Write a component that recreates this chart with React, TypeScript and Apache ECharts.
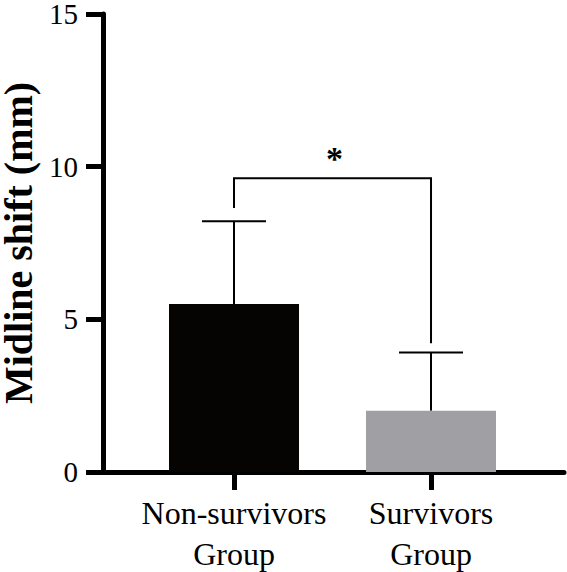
import React, { useEffect, useRef } from "react";
import * as echarts from "echarts";

const categories = ["Non-survivors\nGroup", "Survivors\nGroup"];
const positions = [1, 2];
const means = [5.5, 2.01];
const upperErrors = [8.21, 3.91];
const barColors = ["#060303", "#a0a0a4"];
const yTicks = [0, 5, 10, 15];
// significance bracket: [leftX, rightX, topY, leftLegEnd, rightLegEnd]
const bracket = [1, 2, 9.62, 8.65, 4.22];
const sigLabel = "*";

const FONT = '"Liberation Serif", "Times New Roman", serif';

export default function App() {
  const ref = useRef<HTMLDivElement>(null);
  useEffect(() => {
    if (!ref.current) return;
    const chart = echarts.init(ref.current, null, { renderer: "svg" });
    chart.setOption({
      animation: false,
      grid: { left: 103, right: 3, top: 14, bottom: 100, containLabel: false, outerBoundsMode: "none" },
      xAxis: {
        type: "value",
        min: 0.335,
        max: 2.675,
        splitLine: { show: false },
        axisLine: { show: true, lineStyle: { color: "#000", width: 5 } },
        axisTick: {
          show: true,
          customValues: positions,
          length: 18,
          inside: false,
          lineStyle: { color: "#000", width: 5 },
        },
        axisLabel: {
          show: true,
          customValues: positions,
          margin: 20,
          color: "#000",
          fontFamily: FONT,
          fontSize: 32,
          lineHeight: 41,
          align: "center",
          formatter: (v: number) => categories[Math.round(v) - 1] ?? "",
        },
      },
      yAxis: {
        type: "value",
        min: yTicks[0],
        max: yTicks[yTicks.length - 1],
        interval: 5,
        splitLine: { show: false },
        axisLine: { show: true, lineStyle: { color: "#000", width: 5 } },
        axisTick: { show: true, length: 17, inside: false, lineStyle: { color: "#000", width: 5 } },
        axisLabel: { color: "#000", fontFamily: FONT, fontSize: 29, lineHeight: 24, margin: 25 },
        name: "Midline shift (mm)",
        nameLocation: "middle",
        nameGap: 64,
        nameRotate: 90,
        nameTextStyle: { color: "#000", fontFamily: FONT, fontSize: 40, lineHeight: 34, fontWeight: "bold" },
      },
      series: [
        {
          type: "bar",
          barWidth: 130,
          z: 2,
          data: positions.map((p, i) => ({
            value: [p, means[i]],
            itemStyle: { color: barColors[i] },
          })),
        },
        {
          type: "custom",
          z: 3,
          data: positions.map((p, i) => [p, means[i], upperErrors[i]]),
          renderItem: (params: any, api: any) => {
            const x = api.value(0);
            const lo = api.coord([x, api.value(1)]);
            const hi = api.coord([x, api.value(2)]);
            const half = 32;
            return {
              type: "group",
              children: [
                {
                  type: "line",
                  shape: { x1: lo[0], y1: lo[1], x2: hi[0], y2: hi[1] },
                  style: { stroke: "#000", lineWidth: 2 },
                },
                {
                  type: "line",
                  shape: { x1: hi[0] - half, y1: hi[1], x2: hi[0] + half, y2: hi[1] },
                  style: { stroke: "#000", lineWidth: 2 },
                },
              ],
            };
          },
        },
        {
          type: "custom",
          z: 3,
          data: [bracket],
          renderItem: (params: any, api: any) => {
            const x1 = api.value(0);
            const x2 = api.value(1);
            const top = api.value(2);
            const pA = api.coord([x1, api.value(3)]);
            const pB = api.coord([x1, top]);
            const pC = api.coord([x2, top]);
            const pD = api.coord([x2, api.value(4)]);
            const mid = api.coord([(x1 + x2) / 2, top]);
            return {
              type: "group",
              children: [
                {
                  type: "polyline",
                  shape: { points: [pA, pB, pC, pD] },
                  style: { stroke: "#000", lineWidth: 2, fill: null },
                },
                {
                  type: "text",
                  x: mid[0] + 2,
                  y: mid[1] - 3,
                  style: {
                    text: sigLabel,
                    fill: "#000",
                    font: `bold 34px ${FONT}`,
                    align: "center",
                    verticalAlign: "bottom",
                  },
                },
              ],
            };
          },
        },
      ],
    });
    return () => chart.dispose();
  }, []);
  return <div ref={ref} style={{ width: 567, height: 572, position: "absolute", left: 0, top: 0 }} />;
}
